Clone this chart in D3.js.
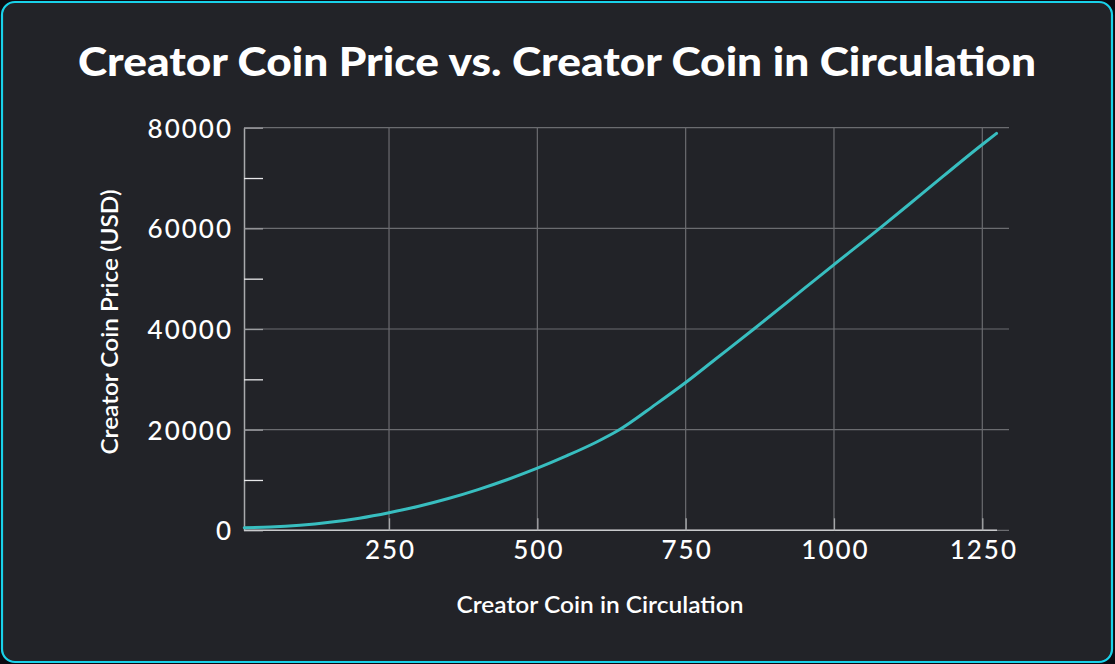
<!DOCTYPE html>
<html>
<head>
<meta charset="utf-8">
<script src="https://cdn.jsdelivr.net/npm/d3@7"></script>
<style>
  html, body { margin: 0; padding: 0; background: #0b0b12; }
  svg { display: block; }
</style>
</head>
<body>
<svg id="chart" width="1115" height="664"></svg>
<script>
// ---- data ----
const title = "Creator Coin Price vs. Creator Coin in Circulation";
const xLabel = "Creator Coin in Circulation";
const yLabel = "Creator Coin Price (USD)";
const supply = [6, 50, 100, 150, 200, 250, 300, 350, 400, 450, 500, 550, 600, 636, 700, 750, 800, 865, 950, 1000, 1077, 1150, 1250, 1274];
const price  = [520, 640, 990, 1580, 2410, 3500, 4780, 6310, 8090, 10100, 12340, 14830, 17550, 19820, 25070, 29370, 33990, 40000, 48060, 52800, 60000, 67040, 76670, 78860];
const xTicks = [250, 500, 750, 1000, 1250];
const xTickLabels = ["250", "500", "750", "1000", "1250"];
const yTicks = [0, 20000, 40000, 60000, 80000];
const yTickLabels = ["0", "20000", "40000", "60000", "80000"];
const yMinorTicks = [10000, 30000, 50000, 70000];

// ---- layout ----
const W = 1115, H = 664;
const plotLeft = 244, plotTop = 127.7, plotBottom = 530.3, gridRight = 1009, axisRight = 997;
const font = "Lato, 'Open Sans', sans-serif";

const svg = d3.select("#chart");

// card
svg.append("rect").attr("x", 0).attr("y", 0).attr("width", W).attr("height", H).attr("fill", "#0b0b12");
svg.append("rect")
  .attr("x", 2).attr("y", 2).attr("width", W - 5).attr("height", H - 4)
  .attr("rx", 13).attr("ry", 13)
  .attr("fill", "#222328").attr("stroke", "#19d2ea").attr("stroke-width", 2.2);

const x = d3.scaleLinear().domain([0, 1250]).range([240.7, 982.3]);
const y = d3.scaleLinear().domain([0, 80000]).range([plotBottom, plotTop]);

// title
svg.append("text")
  .attr("x", 557).attr("y", 76)
  .attr("text-anchor", "middle")
  .attr("font-family", font).attr("font-weight", 900)
  .attr("font-size", 39).attr("fill", "#ffffff")
  .attr("textLength", 958).attr("lengthAdjust", "spacingAndGlyphs")
  .text(title);

// horizontal grid
svg.append("g").selectAll("line").data(yTicks).join("line")
  .attr("x1", plotLeft).attr("x2", gridRight)
  .attr("y1", d => y(d)).attr("y2", d => y(d))
  .attr("stroke", "#6b6c70").attr("stroke-width", 1.2);

// vertical grid
svg.append("g").selectAll("line").data(xTicks).join("line")
  .attr("x1", d => x(d)).attr("x2", d => x(d))
  .attr("y1", plotTop).attr("y2", plotBottom)
  .attr("stroke", "#6b6c70").attr("stroke-width", 1.2);

// y axis (labels + major tick marks)
const yAxis = svg.append("g")
  .attr("transform", `translate(${plotLeft},0)`)
  .call(d3.axisLeft(y).tickValues(yTicks)
    .tickFormat((d, i) => yTickLabels[i])
    .tickSizeInner(-19).tickSizeOuter(0).tickPadding(11));
yAxis.select(".domain").attr("stroke", "#a9aaad").attr("stroke-width", 1.5);
yAxis.selectAll(".tick line").attr("stroke", "#9d9ea1").attr("stroke-width", 1.3);
yAxis.selectAll(".tick text")
  .attr("fill", "#ffffff").attr("font-family", font).attr("font-weight", 500)
  .attr("font-size", 26).attr("letter-spacing", 2).attr("dy", "0.36em");

// y minor ticks
const yMinor = svg.append("g")
  .attr("transform", `translate(${plotLeft},0)`)
  .call(d3.axisLeft(y).tickValues(yMinorTicks).tickFormat("")
    .tickSizeInner(-19).tickSizeOuter(0));
yMinor.select(".domain").remove();
yMinor.selectAll(".tick line").attr("stroke", "#e8e8ea").attr("stroke-width", 1.3);

// x axis
const xAxis = svg.append("g")
  .attr("transform", `translate(0,${plotBottom})`)
  .call(d3.axisBottom(x).tickValues(xTicks)
    .tickFormat((d, i) => xTickLabels[i])
    .tickSizeInner(-12).tickSizeOuter(0).tickPadding(10));
xAxis.select(".domain").attr("d", `M${plotLeft},0H${axisRight}`)
  .attr("stroke", "#c9cacc").attr("stroke-width", 1.5);
xAxis.selectAll(".tick line").attr("stroke", "#a5a6a9").attr("stroke-width", 1.3);
xAxis.selectAll(".tick text")
  .attr("fill", "#ffffff").attr("font-family", font).attr("font-weight", 500)
  .attr("font-size", 26).attr("letter-spacing", 2).attr("dx", "1");

// curve
const line = d3.line()
  .x((d, i) => x(supply[i]))
  .y((d, i) => y(price[i]))
  .curve(d3.curveMonotoneX);
svg.append("path")
  .attr("d", line(supply))
  .attr("fill", "none").attr("stroke", "#38bec0").attr("stroke-width", 3)
  .attr("stroke-linecap", "round");

// axis titles
svg.append("text")
  .attr("x", 600).attr("y", 613)
  .attr("text-anchor", "middle")
  .attr("font-family", font).attr("font-weight", 600)
  .attr("font-size", 22).attr("fill", "#ffffff")
  .attr("textLength", 287).attr("lengthAdjust", "spacingAndGlyphs")
  .text(xLabel);

svg.append("text")
  .attr("transform", "translate(118,322) rotate(-90)")
  .attr("text-anchor", "middle")
  .attr("font-family", font).attr("font-weight", 600)
  .attr("font-size", 22).attr("fill", "#ffffff")
  .attr("textLength", 265).attr("lengthAdjust", "spacingAndGlyphs")
  .text(yLabel);
</script>
</body>
</html>
